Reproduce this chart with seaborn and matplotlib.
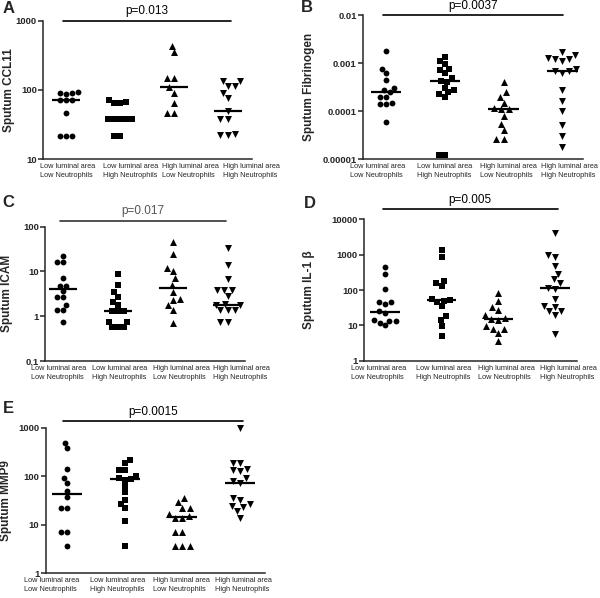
import numpy as np
import pandas as pd
import matplotlib
matplotlib.use("Agg")
import matplotlib.pyplot as plt
import seaborn as sns

# ---------------- data ----------------
categories = ["Low luminal area\nLow Neutrophils",
              "Low luminal area\nHigh Neutrophils",
              "High luminal area\nLow Neutrophils",
              "High luminal area\nHigh Neutrophils"]
markers = ["o", "s", "^", "v"]
marker_sizes = [4.2, 4.2, 5.0, 5.0]

# A: Sputum CCL11
ccl11_ll = [95, 92, 90, 88, 72, 72, 72, 47, 22, 22, 22]
ccl11_lh = [72, 68, 65, 64, 38, 38, 38, 38, 38, 22, 22]
ccl11_hl = [436, 349, 150, 150, 109, 91, 64, 46, 46]
ccl11_hh = [136, 136, 114, 114, 91, 76, 50, 38, 38, 22.5, 22.5, 23]
ccl11_med = [72, 38, 109, 50]
ccl11_ticks = [10, 100, 1000]
ccl11_ticklabels = ["10", "100", "1000"]

# B: Sputum Fibrinogen
fib_ll = [0.0018, 0.00074, 0.00061, 0.00044, 0.00031, 0.00028, 0.00025,
          0.00020, 0.00020, 0.00015, 0.00014, 0.00014, 0.00006]
fib_lh = [0.00135, 0.00112, 0.00095, 0.00077, 0.00072, 0.00062, 0.00048,
          0.00042, 0.00040, 0.00031, 0.00028, 0.00025, 0.00023, 0.0002,
          0.000012, 0.000012]
fib_hl = [0.00041, 0.00025, 0.0002, 0.00015, 0.000115, 0.00011, 0.00011,
          0.00008, 0.000055, 0.00004, 0.000027, 0.000027]
fib_hh = [0.0017, 0.0015, 0.0013, 0.0012, 0.0012, 0.0011, 0.00075, 0.00070,
          0.00068, 0.00062, 0.00027, 0.00016, 0.0001, 0.000051, 0.00003,
          0.000018]
fib_med = [0.00025, 0.00042, 0.00011, 0.00068]
fib_ticks = [0.00001, 0.0001, 0.001, 0.01]
fib_ticklabels = ["0.00001", "0.0001", "0.001", "0.01"]

# C: Sputum ICAM
icam_ll = [22, 16, 16, 7.3, 4.8, 4.8, 3.7, 2.7, 2.7, 1.8, 1.4, 1.4, 0.75]
icam_lh = [8.7, 5.0, 3.4, 2.7, 2.1, 1.8, 1.3, 1.3, 1.3, 0.75, 0.75,
           0.58, 0.58, 0.58]
icam_hl = [46, 25, 12, 10, 7, 5, 3.5, 2.4, 2.3, 1.8, 1.4, 0.71]
icam_hh = [34, 13.6, 6.9, 3.8, 3.8, 3.8, 2.8, 1.9, 1.8, 1.8, 1.36, 1.36,
           1.36, 0.73, 0.73]
icam_med = [4.1, 1.3, 4.3, 1.8]
icam_ticks = [0.1, 1, 10, 100]
icam_ticklabels = ["0.1", "1", "10", "100"]

# D: Sputum IL-1 beta
il1b_ll = [457, 284, 104, 47, 45, 40, 25, 22, 14, 13.5, 13, 12, 10]
il1b_lh = [1355, 880, 184, 160, 130, 55, 52, 50, 45, 35, 18, 14, 9.6, 5]
il1b_hl = [84, 50, 34, 28, 20, 16, 15, 14, 9.5, 8, 8, 5.9, 3.5]
il1b_hh = [4190, 1000, 880, 478, 284, 200, 155, 115, 110, 54, 35, 33, 26,
           25, 20, 5.8]
il1b_med = [24.4, 51, 15.4, 111]
il1b_ticks = [1, 10, 100, 1000, 10000]
il1b_ticklabels = ["1", "10", "100", "1000", "10000"]

# E: Sputum MMP9
mmp9_ll = [490, 375, 139, 90, 71, 50, 37, 22, 22, 7, 7, 3.7]
mmp9_lh = [215, 188, 135, 135, 100, 92, 88, 85, 63, 47, 33, 27, 22, 12, 3.7]
mmp9_hl = [36, 29, 22, 22, 17, 15, 14, 14, 7, 7, 3.7, 3.7, 3.7]
mmp9_hh = [970, 190, 185, 140, 135, 130, 90, 80, 74, 35, 32, 27, 24, 23,
           19, 14]
mmp9_med = [43, 86, 14.2, 74]
mmp9_ticks = [1, 10, 100, 1000]
mmp9_ticklabels = ["1", "10", "100", "1000"]

p_values = ["p=0.013", "p=0.0037", "p=0.017", "p=0.005", "p=0.0015"]
ylabels = ["Sputum CCL11", "Sputum Fibrinogen", "Sputum ICAM",
           "Sputum IL-1 \u03b2", "Sputum MMP9"]

# ---------------- style ----------------
sns.set_style("ticks")
plt.rcParams["font.family"] = ["Liberation Sans", "DejaVu Sans"]
plt.rcParams["axes.linewidth"] = 1.1

fig = plt.figure(figsize=(6, 5.98), dpi=100)


def panel(rect, letter, letter_xy, groups, medians, ticks, ticklabels,
          ylabel, label_x, xlim, label_pos, ptext, pline, py, pcolor="black",
          tcolor="black"):
    ax = fig.add_axes(rect)
    for cat, vals, mk, ms in zip(categories, groups, markers, marker_sizes):
        df = pd.DataFrame({"group": [cat] * len(vals), "value": vals})
        sns.swarmplot(data=df, x="group", y="value", order=categories,
                      marker=mk, color="black", size=ms, linewidth=0,
                      log_scale=True, ax=ax)
    for c in ax.collections:
        c.set_clip_on(False)
    pos = np.arange(len(categories))
    ax.hlines(medians, pos - 0.26, pos + 0.26, color="black", lw=1.6,
              zorder=3)
    ax.set_yscale("log")
    ax.set_ylim(ticks[0], ticks[-1])
    ax.set_yticks(ticks)
    ax.set_yticklabels(ticklabels, fontsize=6.8, fontweight="bold")
    ax.yaxis.set_minor_locator(matplotlib.ticker.NullLocator())
    ax.tick_params(axis="y", length=3.5, width=1.1, pad=1)
    ax.set_xlim(xlim)
    ax.set_xticks(label_pos)
    ax.set_xticklabels(categories, fontsize=5.3,
                       multialignment="left", linespacing=1.4)
    ax.tick_params(axis="x", length=0, pad=3)
    ax.set_xlabel("")
    ax.set_ylabel(ylabel, fontsize=8.5, fontweight="bold")
    ax.yaxis.set_label_coords(label_x, 0.5)
    sns.despine(ax=ax)
    tr = ax.get_xaxis_transform()
    ax.plot(pline, [py, py], transform=tr, color=pcolor, lw=1.2,
            clip_on=False)
    ax.annotate(ptext, xy=((pline[0] + pline[1]) / 2, py), xycoords=tr,
                xytext=(0, 2.5), textcoords="offset points", ha="center",
                va="bottom", fontsize=8.5, color=tcolor)
    fig.text(letter_xy[0], letter_xy[1], letter, fontsize=12,
             fontweight="bold", ha="left", va="top")
    return ax


panel([0.0717, 0.7336, 0.348, 0.2318], "A", (0.004, 0.998),
      [ccl11_ll, ccl11_lh, ccl11_hl, ccl11_hh], ccl11_med,
      ccl11_ticks, ccl11_ticklabels, ylabels[0], -0.134,
      (-0.434, 3.345), [0.03, 1.19, 2.31, 3.45], p_values[0],
      [-0.07, 3.07], 1.0)

panel([0.605, 0.7336, 0.367, 0.2413], "B", (0.502, 1.0),
      [fib_ll, fib_lh, fib_hl, fib_hh], fib_med,
      fib_ticks, fib_ticklabels, ylabels[1], -0.218,
      (-0.392, 3.356), [-0.14, 0.99, 2.08, 3.13], p_values[1],
      [-0.05, 3.02], 1.0)

panel([0.075, 0.3963, 0.333, 0.2246], "C", (0.004, 0.674),
      [icam_ll, icam_lh, icam_hl, icam_hh], icam_med,
      icam_ticks, icam_ticklabels, ylabels[2], -0.16,
      (-0.327, 3.31), [-0.07, 1.04, 2.16, 3.24], p_values[2],
      [-0.05, 2.96], 1.045, pcolor="#333333", tcolor="#555555")

panel([0.6067, 0.3968, 0.355, 0.2365], "D", (0.507, 0.672),
      [il1b_ll, il1b_lh, il1b_hl, il1b_hh], il1b_med,
      il1b_ticks, il1b_ticklabels, ylabels[3], -0.23,
      (-0.37, 3.39), [-0.11, 1.04, 2.15, 3.24], p_values[3],
      [-0.04, 3.05], 1.07)

panel([0.076, 0.0413, 0.3655, 0.2435], "E", (0.004, 0.329),
      [mmp9_ll, mmp9_lh, mmp9_hl, mmp9_hh], mmp9_med,
      mmp9_ticks, mmp9_ticklabels, ylabels[4], -0.152,
      (-0.369, 3.43), [-0.26, 0.88, 1.99, 3.05], p_values[4],
      [-0.07, 3.05], 1.046)

fig.savefig("out.png", dpi=100)
